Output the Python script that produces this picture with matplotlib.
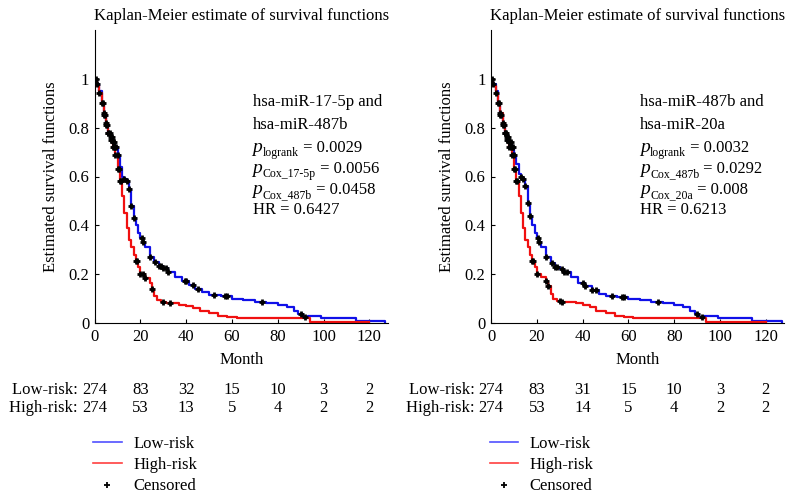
import matplotlib
matplotlib.use("Agg")
import matplotlib.pyplot as plt
import numpy as np
from matplotlib.lines import Line2D

plt.rcParams['font.family'] = ['Liberation Serif', 'DejaVu Serif']
FS = 12

# ---- data ----
# left panel: hsa-miR-17-5p and hsa-miR-487b
low1_t = [0, 1, 2, 3, 4, 5, 6, 7, 8, 9, 10, 11, 12, 13, 14, 15, 16, 17, 18, 19, 20, 21, 22, 24, 26, 28, 30,
          32, 35, 38, 41, 44, 47, 50, 55, 60, 65, 70, 75, 80, 84, 87, 89, 91, 93, 99, 114, 127]
low1_s = [1, 0.98, 0.95, 0.90, 0.85, 0.81, 0.78, 0.76, 0.74, 0.72, 0.69, 0.64, 0.60, 0.59, 0.58, 0.55, 0.48,
          0.43, 0.40, 0.37, 0.35, 0.33, 0.31, 0.27, 0.25, 0.235, 0.225, 0.21, 0.19, 0.17, 0.155, 0.14, 0.125,
          0.115, 0.11, 0.10, 0.095, 0.085, 0.08, 0.075, 0.065, 0.05, 0.035, 0.025, 0.027, 0.02, 0.01, 0]
high1_t = [0, 1, 2, 3, 4, 5, 6, 7, 8, 9, 10, 11, 12, 13, 14, 15, 16, 17, 18, 19, 20, 22, 24, 25, 26, 27, 29,
           31, 37, 40, 43, 46, 50, 54, 58, 62, 94, 120]
high1_s = [1, 0.97, 0.94, 0.90, 0.86, 0.82, 0.78, 0.75, 0.72, 0.69, 0.63, 0.58, 0.52, 0.45, 0.39, 0.34, 0.31,
           0.28, 0.255, 0.23, 0.20, 0.185, 0.165, 0.14, 0.11, 0.095, 0.085, 0.08, 0.075, 0.07, 0.06, 0.05, 0.04,
           0.03, 0.025, 0.02, 0.005, 0.005]
low1_cens = [1, 3, 4, 4.5, 5, 5.5, 6, 6.5, 7, 7.5, 8, 8.5, 9, 9.5, 10, 13, 14, 15, 16, 17, 20.5, 21, 24, 26.5,
             28, 29, 30, 31, 32, 39.5, 40, 43, 45, 52, 57, 58, 73, 90, 92]
high1_cens = [0.5, 2, 3.5, 4, 5, 6, 7, 7.5, 8, 8.5, 9, 10, 10.5, 11, 11.5, 18, 18.5, 20, 21, 22, 25, 30, 33]

# right panel: hsa-miR-487b and hsa-miR-20a
low2_t = [0, 1, 2, 3, 4, 5, 6, 7, 8, 9, 10, 11, 12, 13, 14, 15, 16, 17, 18, 19, 20, 21, 22, 24, 26, 28, 30,
          32, 35, 38, 41, 44, 47, 50, 55, 60, 65, 70, 75, 80, 84, 87, 89, 91, 93, 99, 114, 127]
low2_s = [1, 0.98, 0.95, 0.90, 0.85, 0.81, 0.78, 0.76, 0.74, 0.72, 0.69, 0.65, 0.61, 0.60, 0.59, 0.56, 0.49,
          0.44, 0.40, 0.37, 0.35, 0.33, 0.31, 0.27, 0.245, 0.23, 0.22, 0.21, 0.19, 0.165, 0.15, 0.135, 0.12,
          0.11, 0.105, 0.10, 0.095, 0.085, 0.08, 0.075, 0.065, 0.05, 0.035, 0.025, 0.027, 0.02, 0.01, 0]
high2_t = [0, 1, 2, 3, 4, 5, 6, 7, 8, 9, 10, 11, 12, 13, 14, 15, 16, 17, 18, 19, 20, 22, 24, 25, 26, 27, 29,
           31, 37, 40, 43, 46, 50, 54, 58, 62, 94, 120]
high2_s = [1, 0.97, 0.94, 0.90, 0.86, 0.82, 0.78, 0.75, 0.72, 0.69, 0.63, 0.58, 0.52, 0.45, 0.39, 0.34, 0.31,
           0.28, 0.255, 0.23, 0.20, 0.19, 0.17, 0.15, 0.12, 0.10, 0.09, 0.085, 0.08, 0.075, 0.065, 0.05, 0.04,
           0.03, 0.025, 0.02, 0.005, 0.005]
low2_cens = [1, 3, 4, 4.5, 5, 5.5, 6, 6.5, 7, 7.5, 8, 8.5, 9, 9.5, 10, 13, 14, 15, 16, 17, 20.5, 21, 24, 26.5,
             28, 29, 31, 32, 33, 40, 41, 44, 46, 53, 57, 58, 73, 90, 92]
high2_cens = [0.5, 2, 3.5, 4, 5, 6, 7, 7.5, 8, 8.5, 9, 10, 10.5, 11, 11.5, 18, 18.5, 20, 24, 25, 30, 31]

risk_ticks = [0, 20, 40, 60, 80, 100, 120]
low1_risk = [274, 83, 32, 15, 10, 3, 2]
high1_risk = [274, 53, 13, 5, 4, 2, 2]
low2_risk = [274, 83, 31, 15, 10, 3, 2]
high2_risk = [274, 53, 14, 5, 4, 2, 2]

names1 = ['hsa-miR-17-5p and', 'hsa-miR-487b']
stats1 = [('logrank', '0.0029'), ('Cox_17-5p', '0.0056'), ('Cox_487b', '0.0458')]
hr1 = '0.6427'
names2 = ['hsa-miR-487b and', 'hsa-miR-20a']
stats2 = [('logrank', '0.0032'), ('Cox_487b', '0.0292'), ('Cox_20a', '0.008')]
hr2 = '0.6213'


def step_value(t, s, x):
    # survival value of a step curve at time x
    i = np.searchsorted(np.array(t), x, side='right') - 1
    return np.array(s)[i]


def panel(ax, lt, ls, ht, hs, lc, hc, names, stats, hr, lrisk, hrisk, tx):
    ax.plot(lt, ls, color='#1010e8', lw=1.6, drawstyle='steps-post')
    ax.plot(ht, hs, color='#f01010', lw=1.6, drawstyle='steps-post')
    ax.plot(lc, step_value(lt, ls, lc), '+', color='black', ms=5, mew=2, ls='none')
    ax.plot(hc, step_value(ht, hs, hc), '+', color='black', ms=5, mew=2, ls='none')

    ax.set_xlim(0, 128)
    ax.set_ylim(0, 1.2)
    ax.set_xticks(risk_ticks)
    ax.set_yticks([0, 0.2, 0.4, 0.6, 0.8, 1])
    ax.set_yticklabels(['0', '0.2', '0.4', '0.6', '0.8', '1'])
    ax.tick_params(direction='in', length=3, labelsize=FS, pad=4)
    for sp in ['top', 'right']:
        ax.spines[sp].set_visible(False)
    ax.set_title('Kaplan-Meier estimate of survival functions', fontsize=FS, pad=7)
    ax.set_xlabel('Month', fontsize=FS, labelpad=5)
    ax.set_ylabel('Estimated survival functions', fontsize=FS, labelpad=7)

    # annotation text
    ys = [0.754, 0.676, 0.601, 0.529, 0.457, 0.386]
    ax.text(tx, ys[0], names[0], transform=ax.transAxes, fontsize=FS, va='center')
    ax.text(tx, ys[1], names[1], transform=ax.transAxes, fontsize=FS, va='center')
    for k, (sub, val) in enumerate(stats):
        y = ys[2 + k] - 0.018
        t1 = ax.text(tx, y, 'p', style='italic', transform=ax.transAxes, fontsize=FS + 2, va='baseline')
        t2 = ax.annotate(sub, xy=(1, y), xycoords=(t1, ax.transAxes), xytext=(0.3, -2.5),
                         textcoords='offset points', fontsize=FS - 3.5, va='baseline')
        ax.annotate(' = ' + val, xy=(1, y), xycoords=(t2, ax.transAxes), xytext=(0, 0),
                    textcoords='offset points', fontsize=FS, va='baseline')
    ax.text(tx, ys[5], 'HR = ' + hr, transform=ax.transAxes, fontsize=FS, va='center')

    # number at risk
    tr = ax.get_xaxis_transform()
    for row, (lab, vals) in enumerate([('Low-risk: ', lrisk), ('High-risk: ', hrisk)]):
        y = -0.229 - 0.061 * row
        for x, v in zip(risk_ticks, vals):
            t = ax.text(x, y, str(v), transform=tr, fontsize=FS, ha='center', va='center', clip_on=False)
            if x == 0:
                ax.annotate(lab, xy=(0, 0.5), xycoords=t, fontsize=FS, ha='right', va='center')

    handles = [Line2D([], [], color='#5050ff', lw=1.2),
               Line2D([], [], color='#ff4040', lw=1.2),
               Line2D([], [], color='black', marker='+', ms=4, mew=1.3, ls='none')]
    ax.legend(handles, ['Low-risk', 'High-risk', 'Censored'], loc='upper left',
              bbox_to_anchor=(-0.005, -0.385), frameon=False, fontsize=FS, borderpad=0,
              borderaxespad=0, handlelength=1.7, handletextpad=0.7, labelspacing=0.32)


fig = plt.figure(figsize=(7.96, 5.0), dpi=100)
ax1 = fig.add_axes([0.119, 0.354, 0.368, 0.586])
ax2 = fig.add_axes([0.617, 0.354, 0.368, 0.586])

panel(ax1, low1_t, low1_s, high1_t, high1_s, low1_cens, high1_cens, names1, stats1, hr1,
      low1_risk, high1_risk, 0.539)
panel(ax2, low2_t, low2_s, high2_t, high2_s, low2_cens, high2_cens, names2, stats2, hr2,
      low2_risk, high2_risk, 0.508)

fig.savefig('out.png', dpi=100)
